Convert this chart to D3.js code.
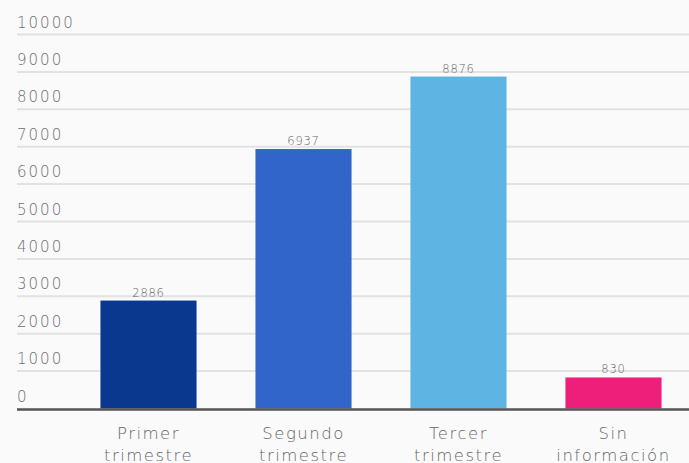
<!DOCTYPE html>
<html>
<head>
<meta charset="utf-8">
<script src="https://cdn.jsdelivr.net/npm/d3@7"></script>
<style>
  html, body { margin: 0; padding: 0; background: #fafafa; }
  svg { display: block; }
  text { font-family: "DejaVu Sans", sans-serif; }
</style>
</head>
<body>
<svg id="chart" width="689" height="463"></svg>
<script>
// Births by trimester of first prenatal visit
const categories = ["Primer trimestre", "Segundo trimestre", "Tercer trimestre", "Sin información"];
const labelLines = [["Primer", "trimestre"], ["Segundo", "trimestre"], ["Tercer", "trimestre"], ["Sin", "información"]];
const values = [2886, 6937, 8876, 830];
const colors = ["#0b388f", "#3165c9", "#5eb5e3", "#ee1f7a"];
const yTicks = [0, 1000, 2000, 3000, 4000, 5000, 6000, 7000, 8000, 9000, 10000];

(function draw() {
  const svg = d3.select("#chart");
  const W = 689;
  const gridLeft = 17, plotTop = 34.5, baseY = 408.5;

  const x = d3.scaleBand()
    .domain(categories)
    .range([71, 691])
    .paddingInner(0.38)
    .paddingOuter(0.19);

  const y = d3.scaleLinear().domain([0, 10000]).range([baseY, plotTop]);

  // grid lines with labels sitting above each line
  const grid = svg.append("g");
  grid.selectAll("line")
    .data(yTicks.filter(d => d > 0))
    .join("line")
    .attr("x1", gridLeft).attr("x2", W)
    .attr("y1", d => y(d)).attr("y2", d => y(d))
    .attr("stroke", "#e2e2e2").attr("stroke-width", 2);

  grid.selectAll("text")
    .data(yTicks)
    .join("text")
    .attr("x", gridLeft)
    .attr("y", d => y(d) - 7)
    .attr("font-size", 15)
    .attr("font-weight", 200)
    .attr("letter-spacing", 2)
    .attr("fill", "#6e6e6e")
    .text(d => d);

  // bars
  svg.append("g").selectAll("rect")
    .data(values)
    .join("rect")
    .attr("x", (d, i) => x(categories[i]))
    .attr("width", x.bandwidth())
    .attr("y", d => y(d))
    .attr("height", d => baseY - y(d))
    .attr("fill", (d, i) => colors[i]);

  // value labels
  svg.append("g").selectAll("text")
    .data(values)
    .join("text")
    .attr("x", (d, i) => x(categories[i]) + x.bandwidth() / 2)
    .attr("y", d => y(d) - 4)
    .attr("text-anchor", "middle")
    .attr("font-size", 11.5)
    .attr("font-weight", 200)
    .attr("letter-spacing", 0.8)
    .attr("fill", "#666")
    .text(d => d);

  // baseline axis
  const xAxis = d3.axisBottom(x).tickSize(0).tickFormat("");
  const axisG = svg.append("g").attr("transform", `translate(0,${baseY + 1})`).call(xAxis);
  axisG.select(".domain").remove();
  axisG.append("line")
    .attr("x1", gridLeft).attr("x2", W)
    .attr("stroke", "#555").attr("stroke-width", 2.5);

  // category labels, two lines each
  axisG.selectAll(".tick").each(function(d, i) {
    const t = d3.select(this).append("text")
      .attr("text-anchor", "middle")
      .attr("font-size", 16.5)
      .attr("font-weight", 200)
      .attr("letter-spacing", 1.5)
      .attr("fill", "#666");
    labelLines[i].forEach((line, k) => {
      t.append("tspan").attr("x", 0).attr("y", 29 + k * 22).text(line);
    });
  });
})();
</script>
</body>
</html>
